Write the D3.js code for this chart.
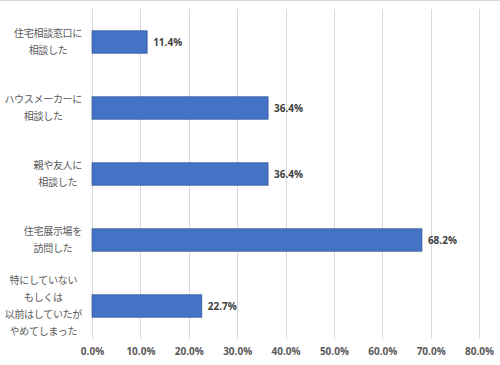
<!DOCTYPE html>
<html><head><meta charset="utf-8">
<script src="https://cdn.jsdelivr.net/npm/d3@7"></script>
<style>
body{margin:0;background:#fff;}
svg{display:block;}
</style></head>
<body>
<svg id="chart" width="500" height="365"></svg>
<script>
const categories = [
  ["住宅相談窓口に","相談した"],
  ["ハウスメーカーに","相談した"],
  ["親や友人に","相談した"],
  ["住宅展示場を","訪問した"],
  ["特にしていない","もしくは","以前はしていたが","やめてしまった"]
];
const values = [0.114, 0.364, 0.364, 0.682, 0.227];
const ticks = [0,0.1,0.2,0.3,0.4,0.5,0.6,0.7,0.8];

const svg = d3.select("#chart");
svg.append("rect").attr("x",0).attr("y",0).attr("width",500).attr("height",365).attr("fill","#fff");
svg.append("line").attr("x1",0).attr("x2",500).attr("y1",0.5).attr("y2",0.5).attr("stroke","#d9d9d9");

const x = d3.scaleLinear().domain([0,0.8]).range([92,479]);
const y = d3.scaleBand().domain(d3.range(categories.length)).range([9,339]).paddingInner(0.66).paddingOuter(0.33);

// gridlines
svg.append("g").selectAll("line").data(ticks).join("line")
  .attr("x1",d=>Math.round(x(d))+0.5).attr("x2",d=>Math.round(x(d))+0.5)
  .attr("y1",9).attr("y2",339).attr("stroke","#d9d9d9").attr("stroke-width",1);

// x axis tick labels
const xAxis = d3.axisBottom(x).tickValues(ticks).tickFormat(d3.format(".1%")).tickSize(0);
const gx = svg.append("g").attr("transform","translate(0,345)").call(xAxis);
gx.select(".domain").remove();
gx.selectAll("text").attr("fill","#595959").attr("font-family","'Open Sans', sans-serif")
  .attr("font-weight","bold").attr("font-size","10px").attr("dy","0.71em");

// bars
svg.append("g").selectAll("rect").data(values).join("rect")
  .attr("x",x(0)).attr("y",(d,i)=>y(i))
  .attr("width",d=>x(d)-x(0)).attr("height",y.bandwidth())
  .attr("fill","#4472c4").attr("stroke","#2f5597").attr("stroke-width",0.7);

// data labels
svg.append("g").selectAll("text").data(values).join("text")
  .attr("x",d=>x(d)+6).attr("y",(d,i)=>y(i)+y.bandwidth()/2)
  .attr("dy","0.35em").attr("fill","#404040")
  .attr("font-family","'Open Sans', sans-serif").attr("font-weight","bold").attr("font-size","10px")
  .text(d=>d3.format(".1%")(d));

// category labels
const lineH = 16.7;
const cg = svg.append("g");
categories.forEach((lines,i)=>{
  const cy = y(i)+y.bandwidth()/2;
  const g = cg.append("g");
  const texts = g.selectAll("text").data(lines).join("text")
    .attr("y",(d,j)=>cy + (j-(lines.length-1)/2)*lineH)
    .attr("dy","0.35em").attr("fill","#595959")
    .attr("font-family","'Noto Sans CJK JP', sans-serif").attr("font-size","10px")
    .attr("letter-spacing","-0.3px")
    .attr("text-anchor","middle")
    .text(d=>d);
  let maxW = 0;
  texts.each(function(){maxW=Math.max(maxW,this.getComputedTextLength());});
  texts.attr("x",82 - maxW/2);
});
</script>
</body></html>
